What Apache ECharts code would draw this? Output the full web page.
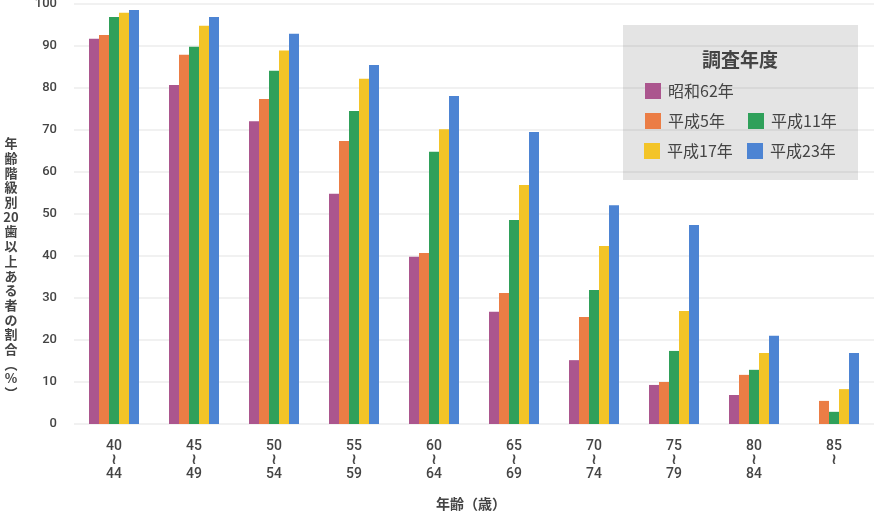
<!DOCTYPE html>
<html>
<head>
<meta charset="utf-8">
<script src="https://cdn.jsdelivr.net/npm/echarts@6/dist/echarts.min.js"></script>
<style>
html, body { margin: 0; padding: 0; background: #fff; }
#chart { width: 879px; height: 511px; }
</style>
</head>
<body>
<div id="chart"></div>
<script>
const ageGroups = ['40～44', '45～49', '50～54', '55～59', '60～64',
  '65～69', '70～74', '75～79', '80～84', '85～']
const yTicks = [0, 10, 20, 30, 40, 50, 60, 70, 80, 90, 100]

const s62 = [91.7, 80.7, 72.1, 54.8, 39.8, 26.7, 15.2, 9.3, 6.9, null]
const h5 = [92.6, 87.9, 77.4, 67.4, 40.7, 31.2, 25.5, 10.0, 11.7, 5.5]
const h11 = [96.9, 89.8, 84.1, 74.5, 64.8, 48.6, 31.9, 17.4, 12.9, 2.9]
const h17 = [97.9, 94.8, 88.9, 82.2, 70.2, 56.9, 42.4, 26.9, 16.9, 8.3]
const h23 = [98.6, 96.9, 92.9, 85.5, 78.1, 69.5, 52.1, 47.4, 21.0, 16.9]

const seriesNames = ['昭和62年', '平成5年', '平成11年', '平成17年', '平成23年']
const seriesData = [s62, h5, h11, h17, h23]
const colors = ['#ab568e', '#eb7d45', '#2fa05a', '#f3c428', '#4d84d3']

const yName = ['年', '齢', '階', '級', '別', '20', '歯', '以', '上', 'あ', 'る', '者', 'の', '割', '合', '︵', '%', '︶']
const xName = '年齢（歳）'

const jp = '"Noto Sans CJK JP", sans-serif'

// legend layout: one legend per item so they sit in the 2-column grid
const legendSpots = [
  { name: '昭和62年', left: 645, top: 83 },
  { name: '平成5年', left: 645, top: 113 },
  { name: '平成11年', left: 748, top: 113 },
  { name: '平成17年', left: 644, top: 143 },
  { name: '平成23年', left: 747, top: 143 }
]

const chart = echarts.init(document.getElementById('chart'))

chart.setOption({
  animation: false,
  color: colors,
  textStyle: { fontFamily: jp },
  grid: { left: 74, right: 5, top: 4, bottom: 87, outerBoundsMode: 'none' },
  legend: legendSpots.map(l => ({
    data: [l.name],
    left: l.left,
    top: l.top,
    padding: 0,
    itemWidth: 16,
    itemHeight: 16,
    icon: 'rect',
    selectedMode: false,
    textStyle: { fontSize: 16, color: '#444', fontFamily: jp, padding: [0, 0, 0, 2] }
  })),
  graphic: [
    {
      type: 'rect',
      shape: { x: 623, y: 25, width: 235, height: 155 },
      style: { fill: 'rgba(0,0,0,0.105)' },
      z: 1
    },
    {
      type: 'text',
      x: 740, y: 60,
      style: { text: '調査年度', font: 'bold 19px ' + jp, fill: '#444', align: 'center', verticalAlign: 'middle' },
      z: 3
    },
    {
      type: 'text',
      x: 11, y: 136,
      style: { text: yName.join('\n'), font: 'bold 13px ' + jp, lineHeight: 14.7, fill: '#444', align: 'center', verticalAlign: 'top' },
      z: 3
    },
    {
      type: 'text',
      x: 471, y: 504,
      style: { text: xName, font: 'bold 14px ' + jp, fill: '#444', align: 'center', verticalAlign: 'middle' },
      z: 3
    }
  ],
  xAxis: {
    type: 'category',
    data: ageGroups,
    axisLine: { show: false },
    axisTick: { show: false },
    axisLabel: {
      margin: 15,
      formatter: v => {
        const p = v.split('～')
        return '{n|' + p[0] + '}\n{t|≀}' + (p[1] ? '\n{n|' + p[1] + '}' : '')
      },
      rich: {
        n: { fontSize: 14, color: '#444', lineHeight: 14, fontFamily: 'Roboto, sans-serif', fontWeight: 500 },
        t: { fontSize: 15, color: '#444', lineHeight: 14, fontFamily: '"DejaVu Sans", sans-serif', fontWeight: 'bold' }
      }
    }
  },
  yAxis: {
    type: 'value',
    min: yTicks[0],
    max: yTicks[yTicks.length - 1],
    interval: 10,
    axisLine: { show: false },
    axisTick: { show: false },
    splitLine: { lineStyle: { color: '#ececec', width: 1.5 } },
    axisLabel: { fontSize: 13, color: '#444', margin: 17, fontFamily: 'Roboto, sans-serif', fontWeight: 500 }
  },
  series: seriesNames.map((name, i) => ({
    name: name,
    type: 'bar',
    data: seriesData[i],
    barWidth: 10,
    barGap: '0%',
    z: 2
  }))
})
</script>
</body>
</html>
